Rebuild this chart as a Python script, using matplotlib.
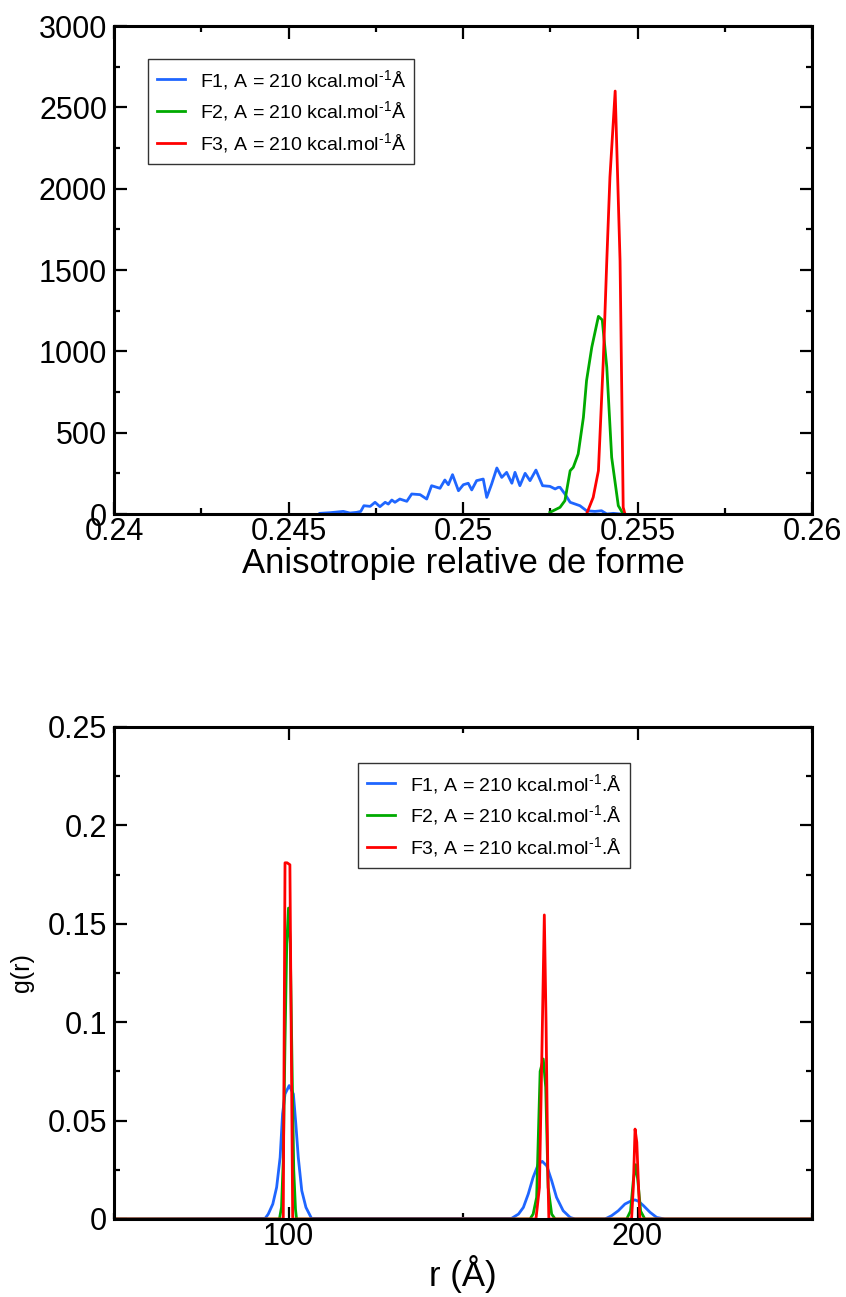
import matplotlib
matplotlib.use("Agg")
import matplotlib.pyplot as plt
from matplotlib.ticker import MultipleLocator, FormatStrFormatter

plt.rcParams['font.family'] = ['Liberation Sans', 'DejaVu Sans']
plt.rcParams['mathtext.fontset'] = 'custom'
plt.rcParams['mathtext.rm'] = 'Liberation Sans'
plt.rcParams['mathtext.it'] = 'Liberation Sans:italic'
plt.rcParams['mathtext.bf'] = 'Liberation Sans:bold'

# ---------------- data: top panel (relative shape anisotropy histograms) ----
f1_x = [0.24590, 0.24619, 0.24657, 0.24676, 0.24695, 0.24707, 0.24716, 0.24734,
        0.24748, 0.24762, 0.24777, 0.24786, 0.24796, 0.24805, 0.24819, 0.24839,
        0.24853, 0.24877, 0.24896, 0.24910, 0.24934, 0.24948, 0.24958, 0.24970,
        0.24987, 0.25001, 0.25015, 0.25025, 0.25039, 0.25058, 0.25068, 0.25082,
        0.25097, 0.25111, 0.25125, 0.25140, 0.25149, 0.25163, 0.25178, 0.25192,
        0.25209, 0.25228, 0.25249, 0.25264, 0.25273, 0.25278, 0.25292, 0.25307,
        0.25335, 0.25354, 0.25378, 0.25397, 0.25412, 0.25431, 0.25450]
f1_y = [4, 8, 16, 6, 10, 16, 51, 47,
        72, 45, 72, 61, 86, 72, 92, 78,
        123, 119, 92, 174, 158, 209, 180, 242,
        143, 180, 189, 148, 205, 215, 102, 184,
        283, 225, 256, 189, 256, 174, 250, 205,
        270, 174, 170, 154, 164, 164, 123, 72,
        51, 20, 16, 20, 0, 4, 0]

f2_x = [0.25249, 0.25278, 0.25292, 0.25307, 0.25316, 0.25330, 0.25345, 0.25354,
        0.25369, 0.25388, 0.25399, 0.25412, 0.25426, 0.25445, 0.25458]
f2_y = [10, 41, 82, 266, 287, 369, 594, 820,
        1025, 1215, 1193, 902, 348, 51, 4]

f3_x = [0.25354, 0.25373, 0.25388, 0.25402, 0.25412, 0.25421, 0.25436, 0.25450,
        0.25455, 0.25459, 0.25464]
f3_y = [0, 102, 266, 943, 1557, 2070, 2600, 1557, 738, 41, 0]

# ---------------- data: bottom panel (radial distribution g(r)) -------------
g1_r = [50, 93.3, 94.2, 95.5, 96.6, 97.6, 98.3, 99.0, 100.2, 101.4, 102.1, 102.8,
        103.8, 105.0, 106.6,
        163.9, 165.9, 167.3, 168.7, 170.1, 171.6, 172.7, 174.0, 175.4, 176.8,
        178.7, 180.7, 182.1,
        190.7, 192.6, 194.5, 196.4, 198.3, 199.3, 200.3, 201.7, 203.6, 205.5,
        207.8, 250]
g1_v = [0, 0.0003, 0.0025, 0.0076, 0.0161, 0.0313, 0.0534, 0.0635, 0.0678, 0.0635,
        0.0483, 0.0313, 0.0144, 0.0059, 0.0003,
        0.0003, 0.0025, 0.0059, 0.0127, 0.0212, 0.0280, 0.0293, 0.0270, 0.0195,
        0.0110, 0.0042, 0.0008, 0.0,
        0.0, 0.0017, 0.0042, 0.0076, 0.0093, 0.0097, 0.0090, 0.0068, 0.0034,
        0.0008, 0.0, 0]

g2_r = [50, 97.4, 98.0, 98.5, 99.0, 99.5, 100.0, 100.5, 101.0, 101.5, 102.0, 102.3,
        169.2, 170.1, 171.1, 172.1, 173.0, 173.7, 174.4, 175.4, 176.4,
        196.9, 198.0, 198.8, 199.5, 200.1, 200.9, 202.1, 250]
g2_v = [0, 0.0, 0.006, 0.03, 0.09, 0.14, 0.158, 0.14, 0.08, 0.025, 0.005, 0.0,
        0.0, 0.0025, 0.011, 0.075, 0.0813, 0.067, 0.016, 0.0025, 0.0,
        0.0, 0.004, 0.0195, 0.0276, 0.0195, 0.004, 0.0, 0]

g3_r = [50, 98.5, 99.0, 99.6, 100.4, 101.2,
        170.9, 171.9, 172.6, 173.3, 173.8, 174.3, 174.6,
        198.3, 198.8, 199.3, 199.8, 200.3, 200.7, 250]
g3_v = [0, 0.0, 0.181, 0.181, 0.180, 0.0,
        0.0, 0.016, 0.084, 0.1545, 0.10, 0.025, 0.0,
        0.0, 0.016, 0.0457, 0.039, 0.016, 0.0, 0]

labels_top = ["F1, A = 210 kcal.mol$^{\\mathrm{\u20101}}$Å",
              "F2, A = 210 kcal.mol$^{\\mathrm{\u20101}}$Å",
              "F3, A = 210 kcal.mol$^{\\mathrm{\u20101}}$Å"]
labels_bot = ["F1, A = 210 kcal.mol$^{\\mathrm{\u20101}}$.Å",
              "F2, A = 210 kcal.mol$^{\\mathrm{\u20101}}$.Å",
              "F3, A = 210 kcal.mol$^{\\mathrm{\u20101}}$.Å"]
colors = ['#1f66ff', '#00aa00', '#ff0000']

W, H = 846, 1297
fig = plt.figure(figsize=(W / 100, H / 100), dpi=100)

def frac(l, t, r, b):
    return [l / W, 1 - b / H, (r - l) / W, (b - t) / H]

ax1 = fig.add_axes(frac(114, 26, 812, 514))
ax2 = fig.add_axes(frac(114, 727, 812, 1219))

lw = 2.0
for x, y, c, lab in zip([f1_x, f2_x, f3_x], [f1_y, f2_y, f3_y], colors, labels_top):
    ax1.plot(x, y, color=c, lw=lw, label=lab)
for x, y, c, lab in zip([g1_r, g2_r, g3_r], [g1_v, g2_v, g3_v], colors, labels_bot):
    ax2.plot(x, y, color=c, lw=lw, label=lab)

ax1.set_xlim(0.24, 0.26)
ax1.set_ylim(0, 3000)
ax1.xaxis.set_major_locator(MultipleLocator(0.005))
ax1.xaxis.set_minor_locator(MultipleLocator(0.0025))
ax1.yaxis.set_major_locator(MultipleLocator(500))
ax1.yaxis.set_minor_locator(MultipleLocator(250))
ax1.xaxis.set_major_formatter(FormatStrFormatter('%g'))
ax1.set_xlabel("Anisotropie relative de forme", fontsize=25, labelpad=0)

ax2.set_xlim(50, 250)
ax2.set_ylim(0, 0.25)
ax2.xaxis.set_major_locator(MultipleLocator(100))
ax2.xaxis.set_minor_locator(MultipleLocator(50))
ax2.yaxis.set_major_locator(MultipleLocator(0.05))
ax2.yaxis.set_minor_locator(MultipleLocator(0.025))
ax2.yaxis.set_major_formatter(FormatStrFormatter('%g'))
ax2.set_xlabel("r (Å)", fontsize=25, labelpad=2)
ax2.set_ylabel("g(r)", fontsize=18, labelpad=10)

for ax in (ax1, ax2):
    for s in ax.spines.values():
        s.set_linewidth(2.2)
    ax.tick_params(which='both', direction='in', top=True, right=True, width=1.6)
    ax.tick_params(which='major', length=9, labelsize=22)
    ax.tick_params(which='minor', length=4.5)
    ax.tick_params(axis='x', which='major', pad=2)
    ax.tick_params(axis='y', which='major', pad=5)

leg_kw = dict(loc='upper left', fontsize=14, frameon=True, fancybox=False,
              framealpha=1, edgecolor='#333333', handlelength=1.45,
              handletextpad=0.75, borderpad=0.45, labelspacing=0.4,
              borderaxespad=0)
l1 = ax1.legend(bbox_to_anchor=(148 / W, 1 - 59 / H),
                bbox_transform=fig.transFigure, **leg_kw)
l2 = ax2.legend(bbox_to_anchor=(358 / W, 1 - 763 / H),
                bbox_transform=fig.transFigure, **leg_kw)
for l in (l1, l2):
    l.get_frame().set_linewidth(1.0)

fig.savefig("out.png", dpi=100)
